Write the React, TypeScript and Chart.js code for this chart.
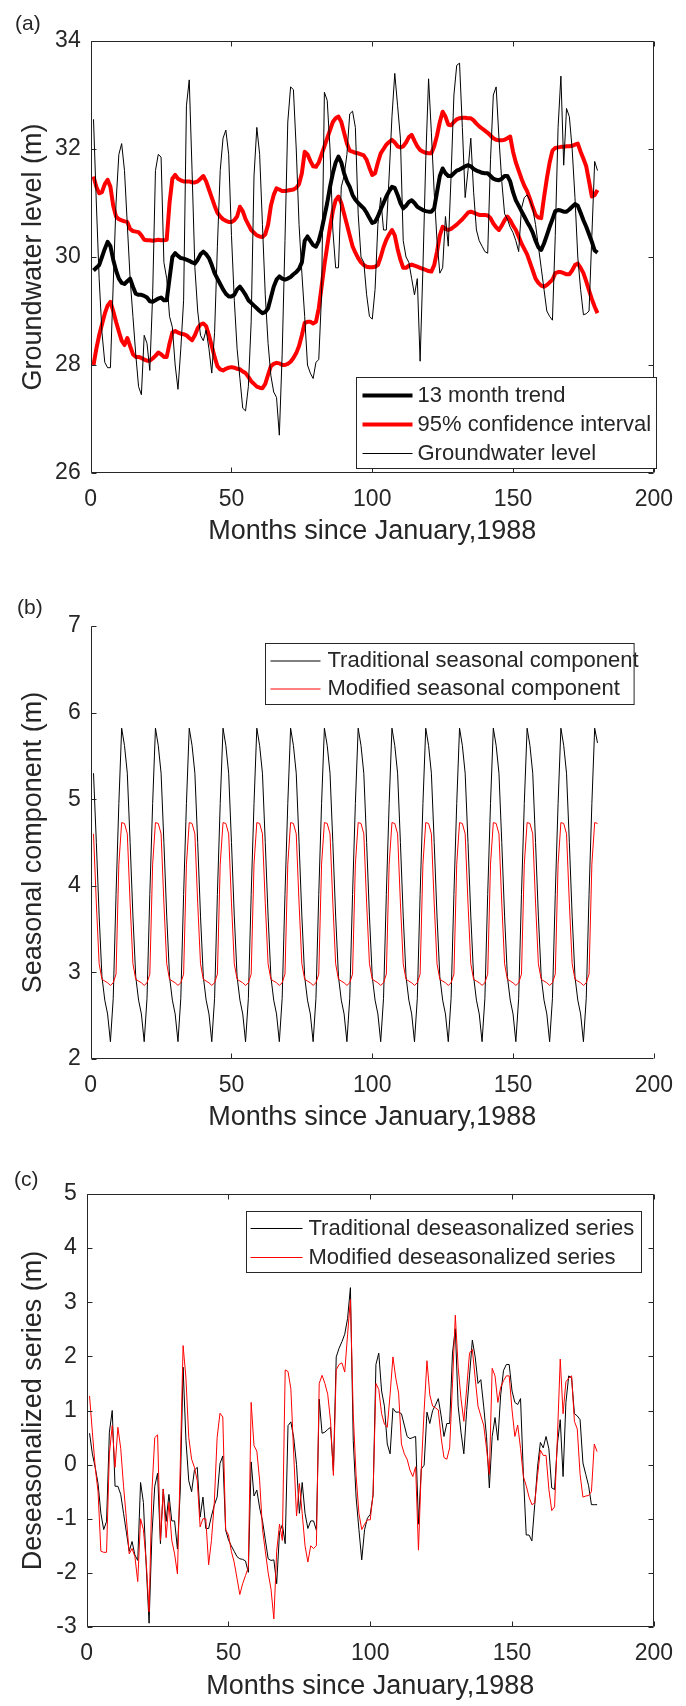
import React, { useEffect, useRef } from 'react';
import { Chart, registerables } from 'chart.js';

Chart.register(...registerables);

const FONT = "'Liberation Sans', Arial, Helvetica, sans-serif";
const INK = '#262626';
const RED = '#ff0000';
const BLACK = '#000000';

// ---------- data ----------
const MONTHS = Array.from({ length: 180 }, (_, i) => i + 1);
const X_TICKS = [0, 50, 100, 150, 200];
const Y_TICKS_A = [26, 28, 30, 32, 34];
const Y_TICKS_B = [2, 3, 4, 5, 6, 7];
const Y_TICKS_C = [-3, -2, -1, 0, 1, 2, 3, 4, 5];
const X_TITLE = 'Months since January,1988';

const LEGEND_A = ['13 month trend', '95% confidence interval', 'Groundwater level'];
const LEGEND_B = ['Traditional seasonal component', 'Modified seasonal component'];
const LEGEND_C = ['Traditional deseasonalized series', 'Modified deseasonalized series'];

const groundwater = [
  32.55, 31.0, 29.6, 28.6, 28.05, 27.95, 27.95, 29.5, 31.0, 31.9, 32.1, 31.6,
  30.6, 29.6, 28.9, 28.2, 27.6, 27.45, 28.55, 28.4, 27.9, 29.3, 31.6, 31.9,
  31.85, 29.9, 29.6, 28.9, 28.7, 28.0, 27.55, 28.3, 29.2, 32.8, 33.28, 31.6,
  29.8, 29.0, 28.55, 28.45, 28.65, 28.3, 27.85, 28.6, 30.2, 31.6, 32.2, 32.35,
  31.9, 30.4, 29.2, 28.3, 27.75, 27.2, 27.15, 27.6, 28.8, 31.5, 32.4, 31.9,
  30.6, 29.3, 28.4, 27.8, 27.5, 27.4, 26.7, 28.2, 30.3, 32.5, 33.15, 33.1,
  32.0, 30.6, 29.7, 28.9, 28.0, 27.85, 27.75, 28.05, 28.1, 29.3, 33.05, 32.9,
  32.0, 30.5, 29.8, 29.8, 31.3, 31.5, 31.9, 32.65, 32.7, 32.4, 30.8, 30.0,
  29.9, 29.3, 28.9, 28.85, 29.4, 30.6, 31.1, 30.5, 30.5, 31.5, 32.6, 33.4,
  32.8, 32.2, 30.3, 30.0, 29.9, 29.6, 29.3, 29.6, 28.07, 29.8, 31.8, 33.3,
  32.3, 31.2, 30.3, 29.7, 29.8, 30.75, 30.2, 31.5, 33.0, 33.55, 33.59, 32.4,
  31.1, 31.6, 32.2, 31.2, 30.5, 30.3, 30.2, 30.1, 30.07, 31.8, 33.0, 33.15,
  32.2, 31.4, 30.8, 30.7, 30.55, 30.45, 30.3, 30.1, 30.9, 31.1, 31.15, 31.05,
  30.9, 30.6, 30.2, 29.8, 29.4, 29.0, 28.9, 28.83, 30.4, 32.4, 33.35, 31.7,
  32.75, 32.6, 32.0, 31.1, 30.0, 29.4, 28.93, 28.95, 29.0, 30.4, 31.77, 31.6,
];

const trend13 = [
  29.75, 29.8, 29.85, 30.0, 30.15, 30.28, 30.2, 29.95, 29.75, 29.6, 29.52, 29.5,
  29.55, 29.6, 29.45, 29.32, 29.3, 29.3, 29.28, 29.25, 29.18, 29.17, 29.2, 29.23,
  29.25, 29.2, 29.2, 29.6, 30.0, 30.07, 30.02, 29.98, 29.97, 29.95, 29.93, 29.9,
  29.88, 29.95, 30.05, 30.1, 30.05, 29.98, 29.85, 29.7, 29.6, 29.5, 29.4, 29.32,
  29.27, 29.27, 29.3, 29.4, 29.45, 29.38, 29.3, 29.2, 29.15, 29.1, 29.05, 29.0,
  28.96, 28.98, 29.05, 29.25, 29.45, 29.58, 29.64, 29.6, 29.58, 29.6, 29.63, 29.68,
  29.72, 29.78, 29.9, 30.3, 30.38, 30.3, 30.22, 30.19, 30.3, 30.5, 30.75, 31.0,
  31.3, 31.55, 31.75, 31.86, 31.75, 31.55, 31.4, 31.3, 31.15, 31.06, 31.0, 30.95,
  30.9, 30.82, 30.72, 30.63, 30.65, 30.75, 30.88, 31.0, 31.12, 31.22, 31.3, 31.28,
  31.15, 31.0, 30.9, 30.95, 31.02, 31.05, 31.0, 30.93, 30.9, 30.87, 30.85, 30.84,
  30.84, 30.9, 31.2, 31.5, 31.64, 31.55, 31.5, 31.5, 31.55, 31.6, 31.62, 31.65,
  31.68, 31.7, 31.68, 31.63, 31.6, 31.58, 31.56, 31.55, 31.55, 31.5, 31.45, 31.43,
  31.42, 31.45, 31.5, 31.5, 31.4, 31.2, 31.05, 30.95, 30.85, 30.75, 30.65, 30.56,
  30.45, 30.3, 30.18, 30.13, 30.25, 30.4, 30.56, 30.7, 30.85, 30.87, 30.86, 30.84,
  30.84, 30.88, 30.93, 30.98, 30.95, 30.82, 30.68, 30.56, 30.42, 30.28, 30.12, 30.08,
];

const ciUpper = [
  31.49, 31.3, 31.18, 31.2, 31.35, 31.43, 31.3, 30.95, 30.75, 30.7, 30.68, 30.66,
  30.65, 30.52, 30.48, 30.47, 30.46, 30.4, 30.32, 30.31, 30.31, 30.3, 30.31, 30.32,
  30.31, 30.31, 30.32, 31.0, 31.45, 31.52, 31.45, 31.42, 31.4, 31.4, 31.4, 31.38,
  31.38, 31.4, 31.45, 31.5, 31.4, 31.25, 31.1, 30.95, 30.82, 30.75, 30.7, 30.67,
  30.65, 30.65, 30.68, 30.75, 30.93, 30.85, 30.7, 30.6, 30.5, 30.45, 30.4, 30.38,
  30.37, 30.42, 30.6, 30.95, 31.15, 31.27, 31.25, 31.22, 31.22, 31.23, 31.24, 31.25,
  31.28, 31.35, 31.55, 31.95, 31.9, 31.78, 31.68, 31.67, 31.75, 31.9, 32.05, 32.2,
  32.35, 32.5, 32.57, 32.6, 32.5, 32.3, 32.1, 31.97, 31.95, 31.93, 31.92, 31.9,
  31.88, 31.8, 31.65, 31.52, 31.55, 31.75, 31.92, 32.0, 32.08, 32.13, 32.17, 32.12,
  32.05, 32.03, 32.05, 32.12, 32.22, 32.26, 32.15, 32.05, 31.98, 31.95, 31.93, 31.92,
  31.92, 32.05, 32.25, 32.5, 32.69, 32.6, 32.45, 32.44, 32.5, 32.55, 32.57, 32.58,
  32.58, 32.57, 32.57, 32.53, 32.47, 32.42, 32.38, 32.34, 32.3, 32.25, 32.2, 32.17,
  32.16, 32.16, 32.17, 32.2, 32.23, 31.95, 31.75, 31.6, 31.45, 31.32, 31.22, 31.08,
  30.92, 30.78, 30.73, 30.72, 31.1, 31.45, 31.75, 31.97, 32.02, 32.03, 32.04, 32.04,
  32.05, 32.05, 32.06, 32.08, 32.1, 31.95, 31.82, 31.68, 31.4, 31.12, 31.15, 31.24,
];

const ciLower = [
  28.0, 28.3, 28.55, 28.75, 28.95, 29.1, 29.17, 29.0, 28.8, 28.62, 28.45, 28.37,
  28.5, 28.35, 28.2, 28.15, 28.15, 28.13, 28.1, 28.08, 28.08, 28.12, 28.17, 28.23,
  28.2, 28.15, 28.15, 28.4, 28.6, 28.63, 28.6, 28.58, 28.57, 28.55, 28.5, 28.46,
  28.55, 28.68, 28.75, 28.77, 28.72, 28.55, 28.35, 28.15, 27.98, 27.92, 27.9, 27.93,
  27.95, 27.96, 27.95, 27.93, 27.92, 27.88, 27.85, 27.78, 27.7, 27.65, 27.6, 27.58,
  27.57, 27.65, 27.82, 27.98, 28.02, 28.04, 28.03, 28.0, 28.0, 28.02, 28.06, 28.13,
  28.22, 28.35, 28.55, 28.78, 28.8, 28.8, 28.77, 28.8, 29.05, 29.45, 29.85, 30.2,
  30.55, 30.85, 31.05, 31.12, 31.0, 30.8, 30.6, 30.4, 30.2, 30.08, 29.98, 29.9,
  29.85, 29.82, 29.81, 29.81, 29.82, 29.85, 30.0, 30.18, 30.32, 30.42, 30.5, 30.4,
  30.15, 29.95, 29.8, 29.8, 29.84, 29.86, 29.84, 29.82, 29.8, 29.78, 29.76, 29.74,
  29.73, 29.85, 30.1, 30.4, 30.56, 30.52, 30.5, 30.52, 30.56, 30.6, 30.65, 30.7,
  30.76, 30.82, 30.84, 30.82, 30.8, 30.78, 30.78, 30.78, 30.77, 30.72, 30.62, 30.55,
  30.5, 30.58, 30.68, 30.75, 30.68, 30.58, 30.5, 30.38, 30.25, 30.15, 30.05, 29.9,
  29.75, 29.6, 29.52, 29.47, 29.45, 29.48, 29.53, 29.58, 29.7, 29.72, 29.72, 29.7,
  29.68, 29.68, 29.75, 29.85, 29.88, 29.8, 29.7, 29.55, 29.38, 29.22, 29.08, 28.96,
];

const seasonalTraditional = [
  5.3, 4.5, 3.65, 2.95, 2.68, 2.52, 2.2, 2.7, 3.9, 4.95, 5.82, 5.62,
  5.3, 4.5, 3.65, 2.95, 2.68, 2.52, 2.2, 2.7, 3.9, 4.95, 5.82, 5.62,
  5.3, 4.5, 3.65, 2.95, 2.68, 2.52, 2.2, 2.7, 3.9, 4.95, 5.82, 5.62,
  5.3, 4.5, 3.65, 2.95, 2.68, 2.52, 2.2, 2.7, 3.9, 4.95, 5.82, 5.62,
  5.3, 4.5, 3.65, 2.95, 2.68, 2.52, 2.2, 2.7, 3.9, 4.95, 5.82, 5.62,
  5.3, 4.5, 3.65, 2.95, 2.68, 2.52, 2.2, 2.7, 3.9, 4.95, 5.82, 5.62,
  5.3, 4.5, 3.65, 2.95, 2.68, 2.52, 2.2, 2.7, 3.9, 4.95, 5.82, 5.62,
  5.3, 4.5, 3.65, 2.95, 2.68, 2.52, 2.2, 2.7, 3.9, 4.95, 5.82, 5.62,
  5.3, 4.5, 3.65, 2.95, 2.68, 2.52, 2.2, 2.7, 3.9, 4.95, 5.82, 5.62,
  5.3, 4.5, 3.65, 2.95, 2.68, 2.52, 2.2, 2.7, 3.9, 4.95, 5.82, 5.62,
  5.3, 4.5, 3.65, 2.95, 2.68, 2.52, 2.2, 2.7, 3.9, 4.95, 5.82, 5.62,
  5.3, 4.5, 3.65, 2.95, 2.68, 2.52, 2.2, 2.7, 3.9, 4.95, 5.82, 5.62,
  5.3, 4.5, 3.65, 2.95, 2.68, 2.52, 2.2, 2.7, 3.9, 4.95, 5.82, 5.62,
  5.3, 4.5, 3.65, 2.95, 2.68, 2.52, 2.2, 2.7, 3.9, 4.95, 5.82, 5.62,
  5.3, 4.5, 3.65, 2.95, 2.68, 2.52, 2.2, 2.7, 3.9, 4.95, 5.82, 5.65,
];

const seasonalModified = [
  4.6, 3.8, 3.1, 2.92, 2.9, 2.88, 2.85, 2.88, 2.98, 4.25, 4.73, 4.72,
  4.6, 3.8, 3.1, 2.92, 2.9, 2.88, 2.85, 2.88, 2.98, 4.25, 4.73, 4.72,
  4.6, 3.8, 3.1, 2.92, 2.9, 2.88, 2.85, 2.88, 2.98, 4.25, 4.73, 4.72,
  4.6, 3.8, 3.1, 2.92, 2.9, 2.88, 2.85, 2.88, 2.98, 4.25, 4.73, 4.72,
  4.6, 3.8, 3.1, 2.92, 2.9, 2.88, 2.85, 2.88, 2.98, 4.25, 4.73, 4.72,
  4.6, 3.8, 3.1, 2.92, 2.9, 2.88, 2.85, 2.88, 2.98, 4.25, 4.73, 4.72,
  4.6, 3.8, 3.1, 2.92, 2.9, 2.88, 2.85, 2.88, 2.98, 4.25, 4.73, 4.72,
  4.6, 3.8, 3.1, 2.92, 2.9, 2.88, 2.85, 2.88, 2.98, 4.25, 4.73, 4.72,
  4.6, 3.8, 3.1, 2.92, 2.9, 2.88, 2.85, 2.88, 2.98, 4.25, 4.73, 4.72,
  4.6, 3.8, 3.1, 2.92, 2.9, 2.88, 2.85, 2.88, 2.98, 4.25, 4.73, 4.72,
  4.6, 3.8, 3.1, 2.92, 2.9, 2.88, 2.85, 2.88, 2.98, 4.25, 4.73, 4.72,
  4.6, 3.8, 3.1, 2.92, 2.9, 2.88, 2.85, 2.88, 2.98, 4.25, 4.73, 4.72,
  4.6, 3.8, 3.1, 2.92, 2.9, 2.88, 2.85, 2.88, 2.98, 4.25, 4.73, 4.72,
  4.6, 3.8, 3.1, 2.92, 2.9, 2.88, 2.85, 2.88, 2.98, 4.25, 4.73, 4.72,
  4.6, 3.8, 3.1, 2.92, 2.9, 2.88, 2.85, 2.88, 2.98, 4.25, 4.73, 4.72,
];

const deseasTraditional = [
  0.58, 0.2, -0.05, -0.35, -0.9, -1.2, -1.05, 0.6, 1.0, -0.4, -0.4, -0.55,
  -0.9, -1.25, -1.6, -1.42, -1.67, -1.77, -0.33, -0.7, -1.88, -2.93, -1.3, -0.4,
  -0.16, -1.46, -0.45, -1.05, -0.55, -1.04, -1.04, -1.56, -0.47, 1.8, 0.45, -0.3,
  -0.5, -0.1, -0.05, -0.97, -0.6, -1.18, -1.18, -0.95, -0.75, -0.6, 0.02, 0.16,
  -1.21, -1.39, -1.5, -1.6, -1.7, -1.74, -1.75, -1.78, -1.99, 0.05, -0.58, -0.47,
  -0.8, -1.04, -1.39, -1.74, -1.77, -1.76, -2.2, -1.25, -1.11, -1.46, 0.72, 0.79,
  0.5, 0.0, -0.9, -0.33, -0.9, -1.18, -1.04, -1.04, -1.21, 1.21, 0.58, 0.6,
  0.65, 0.69, -0.12, 1.99, 2.15, 2.27, 2.41, 2.7, 3.27, 0.45, -0.6, -1.2,
  -1.76, -1.2, -0.99, -0.92, -0.57, 1.85, 2.06, 1.36, 1.08, 0.38, 0.2, 1.04,
  0.97, 0.97, 0.94, 0.73, 0.52, 0.48, 0.5, 0.52, -1.1, -0.08, -0.01, 0.97,
  0.76, 1.0, 1.1, 1.22, 0.9, 0.52, 0.76, 0.76, 2.06, 2.51, 1.08, 0.6,
  0.2, 1.0, 1.64, 2.3, 1.99, 1.5, 1.57, 1.08, 0.52, -0.43, 0.52, 0.87,
  0.45, 1.29, 1.74, 1.85, 1.85, 1.36, 1.15, 1.11, 1.22, -0.18, -1.3, -1.3,
  -1.41, -0.74, -0.04, 0.41, 0.31, 0.52, 0.29, -0.43, -0.46, 0.38, 0.83, -0.22,
  1.15, 1.64, 1.6, 0.94, 0.9, 0.83, 0.03, -0.18, -0.39, -0.74, -0.74, -0.74,
];

const deseasModified = [
  1.27, 0.6, -0.05, -0.5, -1.6, -1.62, -1.62, 0.2, 0.72, -0.05, 0.69, 0.3,
  -0.4, -1.0, -1.65, -1.55, -1.7, -2.16, -1.0, -1.2, -1.8, -2.72, -0.5, 0.5,
  0.55, -1.4, -0.45, -1.35, -0.7, -1.4, -1.65, -2.02, 0.0, 2.2, 1.6, 0.5,
  0.1, -0.05, -0.3, -1.15, -1.0, -1.0, -1.85, -1.4, -0.7, 0.5, 0.95, 0.88,
  -1.2, -1.3, -1.6, -1.8, -2.1, -2.4, -2.2, -2.05, -1.9, 1.15, 0.35, 0.25,
  -0.3, -1.2, -1.6, -2.0, -2.3, -2.85, -1.6, -1.1, -1.4, 1.75, 1.72, 1.4,
  0.2, -0.95, -0.35, -0.9, -1.5, -1.8, -1.5, -1.55, -1.5, 1.5, 1.65, 1.5,
  1.3, 0.8, -0.2, 1.75, 1.85, 1.88, 1.71, 2.4, 3.05, 0.94, -0.2, -0.9,
  -1.2, -1.1, -1.02, -1.02, -0.53, 1.5, 1.39, 0.94, 0.75, 0.69, 1.3, 1.99,
  1.6, 1.32, 0.38, 0.2, 0.1, -0.1, -0.22, -0.04, -1.58, -0.08, 1.0, 1.92,
  1.29, 1.08, 1.05, 1.01, 0.5, 0.13, 0.1, 0.31, 1.5, 2.76, 1.8, 1.22,
  0.8, 1.4, 2.06, 2.13, 1.6, 1.08, 0.9, 0.73, 0.3, -0.18, 1.78, 1.64,
  1.15, 1.43, 1.55, 1.64, 1.64, 1.01, 0.52, 0.73, 0.3, -0.22, -0.39, -0.6,
  -0.74, -0.71, -0.2, 0.27, 0.17, 0.17, -0.46, -0.85, -0.78, 0.5, 1.95, 0.94,
  1.53, 1.6, 1.64, 0.8, 0.66, -0.18, -0.6, -0.58, -0.57, -0.5, 0.38, 0.24,
];

// ---------- helpers ----------
const toXY = (arr: number[]) => arr.map((v, i) => ({ x: MONTHS[i], y: v }));

const decorPlugin = {
  id: 'decor',
  afterDatasetsDraw(chart: any, _args: any, opts: any) {
    const { ctx, chartArea } = chart;
    const xs = chart.scales.x;
    const ys = chart.scales.y;
    const L = Math.round(chartArea.left) + 0.5;
    const R = Math.round(chartArea.right) - 0.5;
    const T = Math.round(chartArea.top) + 0.5;
    const B = Math.round(chartArea.bottom) - 0.5;
    const tl = opts.tickLen;
    ctx.save();
    ctx.strokeStyle = INK;
    ctx.lineWidth = 1;
    ctx.beginPath();
    if (opts.box) {
      ctx.rect(L, T, R - L, B - T);
    } else {
      ctx.moveTo(L, T);
      ctx.lineTo(L, B);
      ctx.lineTo(R, B);
    }
    xs.ticks.forEach((t: any) => {
      const p = Math.round(xs.getPixelForValue(t.value)) + 0.5;
      ctx.moveTo(p, B);
      ctx.lineTo(p, B - tl);
      if (opts.box) {
        ctx.moveTo(p, T);
        ctx.lineTo(p, T + tl);
      }
    });
    ys.ticks.forEach((t: any) => {
      const p = Math.round(ys.getPixelForValue(t.value)) + 0.5;
      ctx.moveTo(L, p);
      ctx.lineTo(L + tl, p);
      if (opts.box) {
        ctx.moveTo(R, p);
        ctx.lineTo(R - tl, p);
      }
    });
    ctx.stroke();

    const lg = opts.legend;
    if (lg) {
      const bx = Math.round(chartArea.left + lg.x) + 0.5;
      const by = Math.round(chartArea.top + lg.y) + 0.5;
      ctx.fillStyle = '#ffffff';
      ctx.fillRect(bx, by, lg.w, lg.h);
      ctx.strokeStyle = INK;
      ctx.lineWidth = 1;
      ctx.strokeRect(bx, by, lg.w, lg.h);
      ctx.font = `${lg.fontSize}px ${FONT}`;
      ctx.textBaseline = 'middle';
      ctx.textAlign = 'left';
      chart.data.datasets.forEach((ds: any) => {
        const idx = ds.legendIndex;
        if (idx === undefined || idx === null) return;
        const ry = by + lg.rowY[idx];
        ctx.beginPath();
        ctx.strokeStyle = ds.borderColor;
        ctx.lineWidth = ds.borderWidth;
        ctx.moveTo(bx + lg.lineX0, ry);
        ctx.lineTo(bx + lg.lineX1, ry);
        ctx.stroke();
        ctx.fillStyle = INK;
        ctx.fillText(ds.label, bx + lg.textX, ry);
      });
    }

    if (opts.label) {
      ctx.font = `${opts.label.size}px ${FONT}`;
      ctx.fillStyle = INK;
      ctx.textAlign = 'left';
      ctx.textBaseline = 'middle';
      ctx.fillText(opts.label.text, opts.label.x, opts.label.y);
    }
    ctx.restore();
  },
};

type PanelSpec = {
  padTop: number;
  padRight: number;
  yAxisW: number;
  xAxisH: number;
  xTitlePad: number;
  yTitlePad: number;
  yMin: number;
  yMax: number;
  yTicks: number[];
  yTitle: string;
  box: boolean;
  label: any;
  legend: any;
  datasets: any[];
};

function buildConfig(p: PanelSpec): any {
  return {
    type: 'line',
    data: { datasets: p.datasets },
    plugins: [decorPlugin],
    options: {
      animation: false,
      responsive: false,
      maintainAspectRatio: false,
      devicePixelRatio: 1,
      parsing: false,
      normalized: true,
      layout: { padding: { left: 0, right: p.padRight, top: p.padTop, bottom: 0 } },
      elements: {
        point: { radius: 0 },
        line: { tension: 0, borderJoinStyle: 'round', borderCapStyle: 'butt' },
      },
      plugins: {
        legend: { display: false },
        tooltip: { enabled: false },
        decor: { box: p.box, tickLen: 5, legend: p.legend, label: p.label },
      },
      scales: {
        x: {
          type: 'linear',
          min: 0,
          max: 200,
          afterBuildTicks: (s: any) => {
            s.ticks = X_TICKS.map((v) => ({ value: v }));
          },
          afterFit: (s: any) => {
            s.height = p.xAxisH;
          },
          grid: { display: false, drawTicks: false },
          border: { display: false },
          ticks: {
            padding: 13,
            color: INK,
            autoSkip: false,
            maxRotation: 0,
            font: { family: FONT, size: 23 },
          },
          title: {
            display: true,
            text: X_TITLE,
            color: INK,
            font: { family: FONT, size: 27 },
            padding: { top: 0, bottom: p.xTitlePad },
          },
        },
        y: {
          type: 'linear',
          min: p.yMin,
          max: p.yMax,
          afterBuildTicks: (s: any) => {
            s.ticks = p.yTicks.map((v) => ({ value: v }));
          },
          afterFit: (s: any) => {
            s.width = p.yAxisW;
          },
          grid: { display: false, drawTicks: false },
          border: { display: false },
          ticks: {
            padding: 10,
            color: INK,
            autoSkip: false,
            font: { family: FONT, size: 23 },
          },
          title: {
            display: true,
            text: p.yTitle,
            color: INK,
            font: { family: FONT, size: 27 },
            padding: { top: p.yTitlePad, bottom: 0 },
          },
        },
      },
    },
  };
}

function Panel({ top, height, spec }: { top: number; height: number; spec: PanelSpec }) {
  const ref = useRef<HTMLCanvasElement | null>(null);
  useEffect(() => {
    if (!ref.current) return;
    const chart = new Chart(ref.current, buildConfig(spec));
    return () => chart.destroy();
  }, []);
  return (
    <div style={{ position: 'absolute', left: 0, top, width: 686, height }}>
      <canvas ref={ref} width={686} height={height} style={{ display: 'block', width: 686, height }} />
    </div>
  );
}

const specA: PanelSpec = {
  padTop: 41,
  padRight: 24,
  yAxisW: 90.7,
  xAxisH: 82,
  xTitlePad: 7,
  yTitlePad: 17,
  yMin: 26,
  yMax: 34,
  yTicks: Y_TICKS_A,
  yTitle: 'Groundwater level (m)',
  box: true,
  label: { text: '(a)', x: 15, y: 24, size: 21 },
  legend: { x: 265.3, y: 336, w: 300, h: 91, rowY: [18, 47, 76], lineX0: 6, lineX1: 56, textX: 61, fontSize: 22 },
  datasets: [
    { label: LEGEND_A[2], legendIndex: 2, data: toXY(groundwater), borderColor: BLACK, borderWidth: 1, order: 0 },
    { label: LEGEND_A[0], legendIndex: 0, data: toXY(trend13), borderColor: BLACK, borderWidth: 4, order: 1 },
    { label: LEGEND_A[1], legendIndex: 1, data: toXY(ciUpper), borderColor: RED, borderWidth: 4, order: 2 },
    { label: LEGEND_A[1], legendIndex: null, data: toXY(ciLower), borderColor: RED, borderWidth: 4, order: 2 },
  ],
};

const specB: PanelSpec = {
  padTop: 41,
  padRight: 24,
  yAxisW: 90.7,
  xAxisH: 82,
  xTitlePad: 7,
  yTitlePad: 17,
  yMin: 2,
  yMax: 7,
  yTicks: Y_TICKS_B,
  yTitle: 'Seasonal component (m)',
  box: false,
  label: { text: '(b)', x: 17, y: 23, size: 21 },
  legend: { x: 174.3, y: 16.5, w: 368.6, h: 61, rowY: [17.5, 45.5], lineX0: 5, lineX1: 55, textX: 62, fontSize: 22 },
  datasets: [
    { label: LEGEND_B[1], legendIndex: 1, data: toXY(seasonalModified), borderColor: RED, borderWidth: 1, order: 0 },
    { label: LEGEND_B[0], legendIndex: 0, data: toXY(seasonalTraditional), borderColor: BLACK, borderWidth: 1, order: 1 },
  ],
};

const specC: PanelSpec = {
  padTop: 44,
  padRight: 27,
  yAxisW: 86.7,
  xAxisH: 79,
  xTitlePad: 3,
  yTitlePad: 17,
  yMin: -3,
  yMax: 5,
  yTicks: Y_TICKS_C,
  yTitle: 'Deseasonalized series (m)',
  box: true,
  label: { text: '(c)', x: 14, y: 30, size: 21 },
  legend: { x: 159.3, y: 17, w: 395, h: 61, rowY: [17, 46], lineX0: 4, lineX1: 56, textX: 62, fontSize: 22 },
  datasets: [
    { label: LEGEND_C[1], legendIndex: 1, data: toXY(deseasModified), borderColor: RED, borderWidth: 1, order: 0 },
    { label: LEGEND_C[0], legendIndex: 0, data: toXY(deseasTraditional), borderColor: BLACK, borderWidth: 1, order: 1 },
  ],
};

export default function App() {
  return (
    <div style={{ position: 'absolute', left: 0, top: 0, width: 686, height: 1706, background: '#ffffff', overflow: 'hidden' }}>
      <Panel top={0} height={555} spec={specA} />
      <Panel top={585} height={556} spec={specB} />
      <Panel top={1150} height={556} spec={specC} />
    </div>
  );
}
